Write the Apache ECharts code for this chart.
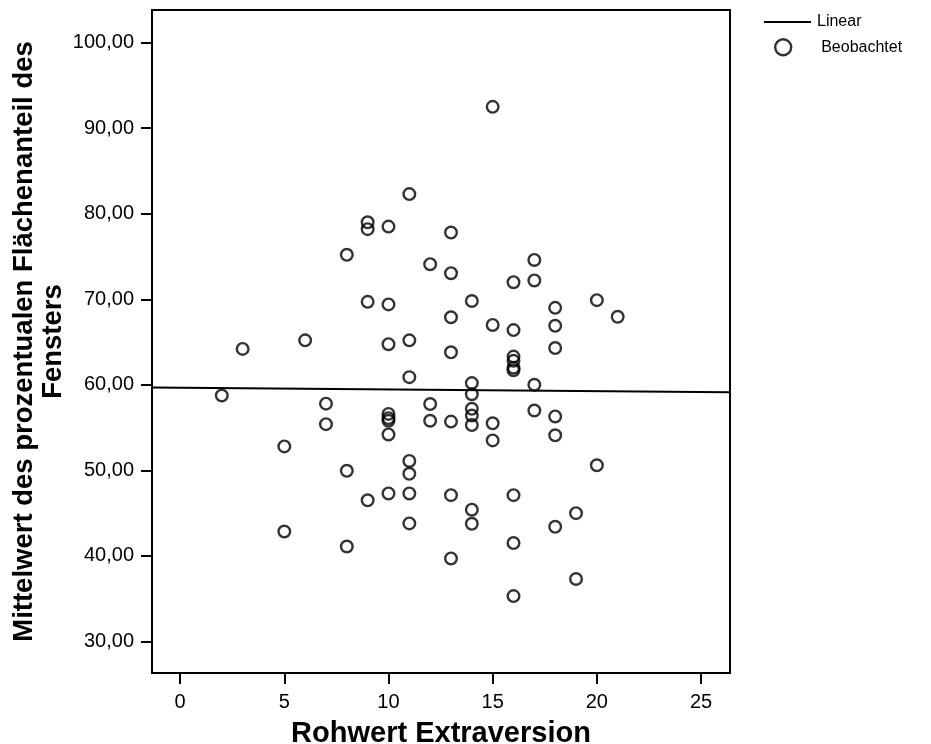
<!DOCTYPE html>
<html>
<head>
<meta charset="utf-8">
<script src="https://cdn.jsdelivr.net/npm/echarts@6/dist/echarts.min.js"></script>
<style>html,body{margin:0;padding:0;background:#fff;}#c{width:931px;height:744px;}</style>
</head>
<body>
<div id="c"></div>
<script>
// Observed points: Rohwert Extraversion (x) and Mittelwert Flächenanteil (y)
const obsX = [2,3,5,5,6,7,7,8,8,8,9,9,9,9,10,10,10,10,10,10,10,10,11,11,11,11,11,11,11,12,12,12,13,13,13,13,13,13,13,14,14,14,14,14,14,14,14,15,15,15,15,16,16,16,16,16,16,16,16,16,17,17,17,17,18,18,18,18,18,18,19,19,20,20,21];
const obsY = [58.75,64.2,52.8,42.85,65.2,57.8,55.4,75.2,49.95,41.1,79.0,78.2,69.7,46.5,78.5,69.4,64.75,56.6,56.1,55.8,54.2,47.3,82.3,65.2,60.9,51.1,49.6,47.3,43.8,74.1,57.75,55.8,77.8,73.05,67.9,63.8,55.7,47.1,39.7,69.8,60.2,58.9,57.2,56.4,55.3,45.4,43.75,92.5,67.0,55.5,53.5,72.0,66.4,63.3,62.8,62.0,61.7,47.1,41.5,35.3,74.6,72.2,60.0,57.0,69.0,66.9,64.3,56.3,54.1,43.4,45.0,37.3,69.9,50.6,67.95];
// Linear fit line endpoints
const fitX = [-1.35, 26.39];
const fitY = [59.68, 59.14];
// Tick values
const xTicks = [0,5,10,15,20,25];
const yTicks = [30,40,50,60,70,80,90,100];

const xRange = [-1.35, 26.39];
const yRange = [26.31, 103.82];

const chart = echarts.init(document.getElementById('c'), null, {renderer:'canvas'});
const fmt = v => v.toFixed(2).replace('.', ',');
const font = 'Liberation Sans, Arial, sans-serif';

chart.setOption({
  animation:false,
  backgroundColor:'#fff',
  grid:{left:152,right:201,top:10,bottom:71,show:true,borderColor:'#000',borderWidth:2,
        containLabel:false,outerBoundsMode:'none'},
  legend:[
    {data:[{name:'Linear',icon:'rect'}],left:764,top:14,padding:0,itemWidth:47,itemHeight:2,itemGap:0,
     itemStyle:{color:'#000'},
     textStyle:{fontFamily:font,fontSize:16,color:'#000',padding:[0,0,0,1]}},
    {data:[{name:'Beobachtet',icon:'circle',itemStyle:{color:'rgba(255,255,255,0)',borderColor:'#000',borderWidth:2.4}}],
     left:774,top:38,padding:0,itemWidth:16,itemHeight:16,itemGap:0,
     textStyle:{fontFamily:font,fontSize:16,color:'#000',padding:[0,0,0,25]}}
  ],
  xAxis:{type:'value',min:xRange[0],max:xRange[1],
    name:'Rohwert Extraversion',nameLocation:'middle',nameGap:46,nameMoveOverlap:false,
    nameTextStyle:{fontFamily:font,fontSize:29,fontWeight:'bold',color:'#000'},
    axisLine:{show:true,onZero:false,lineStyle:{color:'#000',width:2}},
    axisTick:{show:true,length:11,lineStyle:{color:'#000',width:2},customValues:xTicks},
    axisLabel:{show:true,margin:19,fontFamily:font,fontSize:20,color:'#000',customValues:xTicks,formatter:v=>String(v)},
    splitLine:{show:false}},
  yAxis:{type:'value',min:yRange[0],max:yRange[1],
    name:'Mittelwert des prozentualen Flächenanteil des\nFensters',nameLocation:'middle',nameGap:84,nameRotate:90,
    nameMoveOverlap:false,
    nameTextStyle:{fontFamily:font,fontSize:27.5,fontWeight:'bold',color:'#000',lineHeight:29,align:'center'},
    axisLine:{show:true,onZero:false,lineStyle:{color:'#000',width:2}},
    axisTick:{show:true,length:11,lineStyle:{color:'#000',width:2},customValues:yTicks},
    axisLabel:{show:true,margin:18,fontFamily:font,fontSize:20,color:'#000',customValues:yTicks,formatter:v=>fmt(v)},
    splitLine:{show:false}},
  series:[
    {name:'Linear',type:'line',data:fitX.map((x,i)=>[x,fitY[i]]),symbol:'none',
     lineStyle:{color:'#000',width:2},itemStyle:{color:'#000'},z:3},
    {name:'Beobachtet',type:'scatter',data:obsX.map((x,i)=>[x,obsY[i]]),symbol:'circle',symbolSize:11.6,
     itemStyle:{color:'rgba(255,255,255,0)',borderColor:'#000',borderWidth:2.4},z:4}
  ]
});
</script>
</body>
</html>
